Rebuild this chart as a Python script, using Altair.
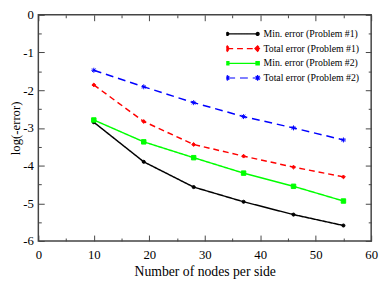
import altair as alt
import pandas as pd

# ---- data ----
nodes = [10, 19, 28, 37, 46, 55]
min_err_p1 = [-2.85, -3.90, -4.57, -4.96, -5.30, -5.59]
tot_err_p1 = [-1.86, -2.83, -3.44, -3.75, -4.04, -4.30]
min_err_p2 = [-2.79, -3.37, -3.79, -4.20, -4.55, -4.94]
tot_err_p2 = [-1.47, -1.91, -2.33, -2.70, -3.00, -3.32]
series = [
    "Min. error (Problem #1)",
    "Total error (Problem #1)",
    "Min. error (Problem #2)",
    "Total error (Problem #2)",
]
x_major = [0, 10, 20, 30, 40, 50, 60]
x_minor = [5, 15, 25, 35, 45, 55]
y_major = [-6, -5, -4, -3, -2, -1, 0]
y_minor = [-5.5, -4.5, -3.5, -2.5, -1.5, -0.5]

# ---- styles ----
colors = ["#000000", "#ff0000", "#00ff00", "#0000ff"]
dashes = [[1, 0], [6, 4], [1, 0], [8, 5]]
STAR = "M-1,0L1,0M0,-1L0,1M-0.7,-0.7L0.7,0.7M-0.7,0.7L0.7,-0.7"
point_shapes = ["circle", "diamond", "square", STAR]
point_sizes = [10, 26, 10, 36]
legend_paths = [
    "M-1,0L1,0M-1.1,0A0.1,0.1,0,1,0,-0.9,0A0.1,0.1,0,1,0,-1.1,0Z"
    "M0.9,0A0.1,0.1,0,1,0,1.1,0A0.1,0.1,0,1,0,0.9,0Z",
    "M-1,0L1,0M-1.18,0L-1,-0.18L-0.82,0L-1,0.18ZM0.82,0L1,-0.18L1.18,0L1,0.18Z",
    "M-1,0L1,0M-1.11,-0.11L-0.89,-0.11L-0.89,0.11L-1.11,0.11Z"
    "M0.89,-0.11L1.11,-0.11L1.11,0.11L0.89,0.11Z",
    "M-1,0L1,0M-1.19,0L-0.81,0M-1,-0.19L-1,0.19M-1.13,-0.13L-0.87,0.13M-1.13,0.13L-0.87,-0.13"
    "M0.81,0L1.19,0M1,-0.19L1,0.19M0.87,-0.13L1.13,0.13M0.87,0.13L1.13,-0.13",
]

FONT = "Liberation Serif"
FRAME = "#444444"

rows = []
for name, vals in zip(series, [min_err_p1, tot_err_p1, min_err_p2, tot_err_p2]):
    for n, v in zip(nodes, vals):
        rows.append({"series": name, "nodes": n, "err": v})
df = pd.DataFrame(rows)

xs = alt.Scale(domain=[0, 60], nice=False, zero=False)
ys = alt.Scale(domain=[-6, 0], nice=False, zero=False)


def axis(orient, values, size, labels=False, title=None, label_pad=4, title_pad=3, title_size=14):
    kw = dict(orient=orient, values=values, tickSize=size, offset=-size,
              domain=False, grid=False, labels=labels, tickColor=FRAME,
              tickWidth=1, title=title)
    if labels:
        kw.update(labelFont=FONT, labelFontSize=13, labelColor="black",
                  labelPadding=label_pad, labelFlush=False, labelOverlap=False,
                  labelExpr="'' + datum.value")
    if title is not None:
        kw.update(titleFont=FONT, titleFontSize=title_size, titleFontWeight="normal",
                  titleColor="black", titlePadding=title_pad)
    return alt.Axis(**kw)


legend = alt.Legend(orient="none", legendX=192, legendY=12, title=None,
                    symbolSize=961, clipHeight=15, rowPadding=0, padding=0,
                    labelFont=FONT, labelFontSize=10, labelColor="black",
                    labelOffset=5, symbolStrokeWidth=1.2)

sdom = alt.Scale(domain=series, range=colors)

lines = alt.Chart(df).mark_line(strokeWidth=1.5).encode(
    x=alt.X("nodes:Q", scale=xs,
            axis=axis("bottom", x_major, 6, True, "Number of nodes per side", 8, 3, 14)),
    y=alt.Y("err:Q", scale=ys,
            axis=axis("left", y_major, 6, True, "log(-error)", 5, 0, 13)),
    stroke=alt.Stroke("series:N", scale=sdom, legend=None),
    strokeDash=alt.StrokeDash("series:N", scale=alt.Scale(domain=series, range=dashes), legend=None),
)

points = alt.Chart(df).mark_point(filled=True, opacity=1, strokeWidth=1).encode(
    x=alt.X("nodes:Q", scale=xs, axis=axis("bottom", x_minor, 3)),
    y=alt.Y("err:Q", scale=ys, axis=axis("left", y_minor, 3)),
    fill=alt.Fill("series:N", scale=sdom, legend=None),
    stroke=alt.Stroke("series:N", scale=sdom, legend=None),
    shape=alt.Shape("series:N", scale=alt.Scale(domain=series, range=point_shapes), legend=None),
    size=alt.Size("series:N", scale=alt.Scale(domain=series, range=point_sizes), legend=None),
)

leg = alt.Chart(df).transform_filter("false").mark_point(filled=True, opacity=1, strokeWidth=1.2).encode(
    x=alt.X("nodes:Q", scale=xs, axis=axis("top", x_major, 6)),
    y=alt.Y("err:Q", scale=ys, axis=axis("right", y_major, 6)),
    fill=alt.Fill("series:N", scale=sdom, legend=legend),
    stroke=alt.Stroke("series:N", scale=sdom, legend=legend),
    shape=alt.Shape("series:N", scale=alt.Scale(domain=series, range=legend_paths), legend=legend),
    strokeDash=alt.StrokeDash("series:N", scale=alt.Scale(domain=series, range=dashes), legend=legend),
)

extra = alt.Chart(df).transform_filter("false").mark_point().encode(
    x=alt.X("nodes:Q", scale=xs, axis=axis("top", x_minor, 3)),
    y=alt.Y("err:Q", scale=ys, axis=axis("right", y_minor, 3)),
)

chart = alt.layer(lines, points, leg, extra).resolve_axis(
    x="independent", y="independent"
).resolve_scale(
    fill="independent", stroke="independent", shape="independent",
    strokeDash="independent", size="independent"
).properties(
    width=340, height=231,
    autosize=alt.AutoSizeParams(type="none"),
    padding={"left": 31, "top": 4, "right": 8, "bottom": 42},
    background="white",
).configure_view(stroke=FRAME, strokeWidth=1.5)

chart.save("out.html", embed_options={"renderer": "svg", "actions": False})
